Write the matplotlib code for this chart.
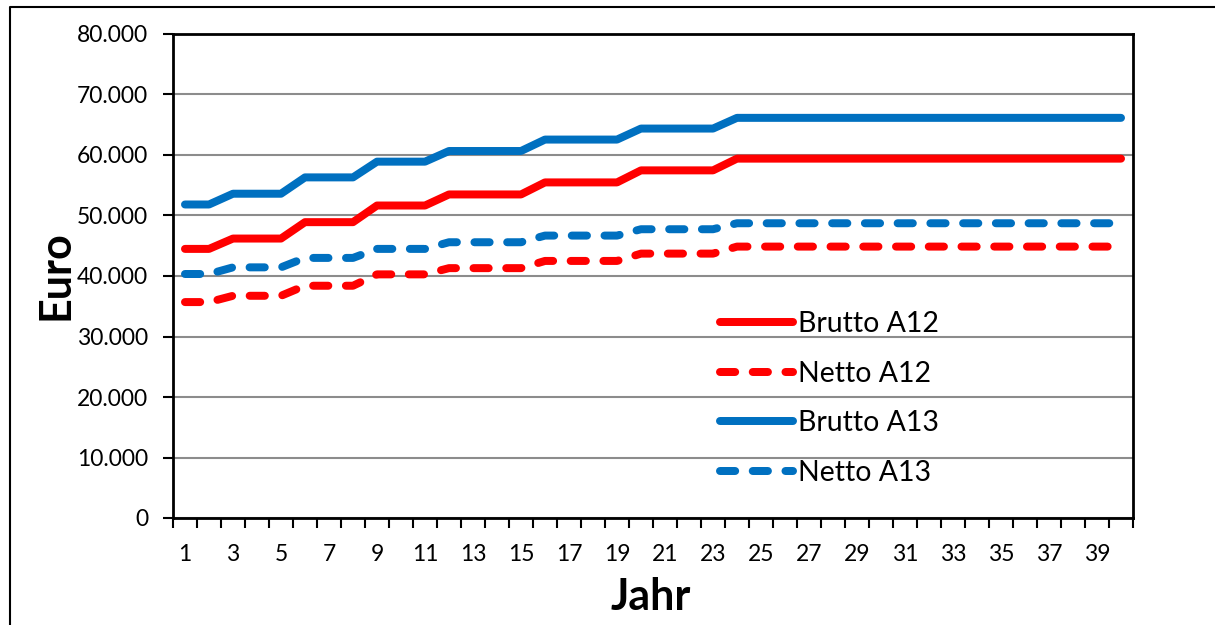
import numpy as np
import matplotlib.pyplot as plt
import matplotlib.ticker as mtick
from matplotlib.lines import Line2D
plt.switch_backend('Agg')

plt.rcParams['font.family'] = ['Lato', 'DejaVu Sans']

# Besoldung nach Erfahrungsstufen: Jahr, ab dem eine Stufe gilt, und Jahresbetrag in Euro
stufe_ab_jahr = [1, 3, 6, 9, 12, 16, 20, 24]
letztes_jahr = 40

brutto_a12 = [44480, 46190, 48900, 51650, 53480, 55470, 57460, 59400]
netto_a12 = [35690, 36730, 38390, 40270, 41300, 42490, 43700, 44860]
brutto_a13 = [51820, 53600, 56300, 58900, 60660, 62550, 64370, 66140]
netto_a13 = [40330, 41430, 42990, 44480, 45580, 46680, 47730, 48720]

y_ticks = [0, 10000, 20000, 30000, 40000, 50000, 60000, 70000, 80000]

jahre = np.arange(1, letztes_jahr + 1)
dauer = np.diff(stufe_ab_jahr + [letztes_jahr + 1])


def pro_jahr(stufen):
    """Repeats each level for the years the step is valid."""
    return np.repeat(stufen, dauer)


ROT = '#ff0000'
BLAU = '#0070c0'
LW = 5.75
DASH = (1.9, 2.2)

fig = plt.figure(figsize=(12.15, 6.25), dpi=100)
ax = fig.add_axes([173 / 1215, 1 - 518 / 625, 960 / 1215, 484 / 625])

serien = [
    ('Brutto A12', brutto_a12, ROT, '-'),
    ('Netto A12', netto_a12, ROT, '--'),
    ('Brutto A13', brutto_a13, BLAU, '-'),
    ('Netto A13', netto_a13, BLAU, '--'),
]
for name, werte, farbe, stil in serien:
    kw = dict(color=farbe, lw=LW, label=name, solid_capstyle='round',
              dash_capstyle='round', solid_joinstyle='round')
    if stil == '--':
        kw['dashes'] = DASH
    ax.plot(jahre, pro_jahr(werte), **kw)

ax.set_xlim(0.5, letztes_jahr + 0.5)
ax.set_ylim(0, 80000)
ax.set_yticks(y_ticks)
ax.yaxis.set_major_formatter(mtick.FuncFormatter(lambda v, p: f'{v:,.0f}'.replace(',', '.')))
ax.grid(axis='y', color='#8c8c8c', lw=1.5)
ax.set_axisbelow(True)

ax.set_xticks(np.arange(1, letztes_jahr + 1, 2))
ax.set_xticks(np.arange(0.5, letztes_jahr + 1), minor=True)
ax.tick_params(axis='x', which='major', length=0, pad=19, labelsize=16.5)
ax.tick_params(axis='x', which='minor', length=7, width=1.5, direction='out')
ax.tick_params(axis='y', length=7, width=1.5, direction='out', pad=11, labelsize=16.5)

for s in ax.spines.values():
    s.set_linewidth(2)
    s.set_color('black')

ax.legend(loc='upper left', bbox_to_anchor=(720 / 1215, 1 - 311 / 625),
          bbox_transform=fig.transFigure, frameon=False, fontsize=20.5,
          handlelength=2.55, handletextpad=0.2, labelspacing=0.83,
          borderpad=0, borderaxespad=0)

fig.text(55 / 1215, 1 - 275 / 625, 'Euro', rotation=90, ha='center', va='center',
         fontsize=31, fontweight='bold')
fig.text(651 / 1215, 1 - 597 / 625, 'Jahr', ha='center', va='center',
         fontsize=31, fontweight='bold')

# Rahmen um das Diagramm
fig.add_artist(Line2D([10 / 1215, 10 / 1215, 1], [0, 1 - 7 / 625, 1 - 7 / 625],
                      transform=fig.transFigure, color='black', lw=1.5))

fig.savefig('out.png', dpi=100)
